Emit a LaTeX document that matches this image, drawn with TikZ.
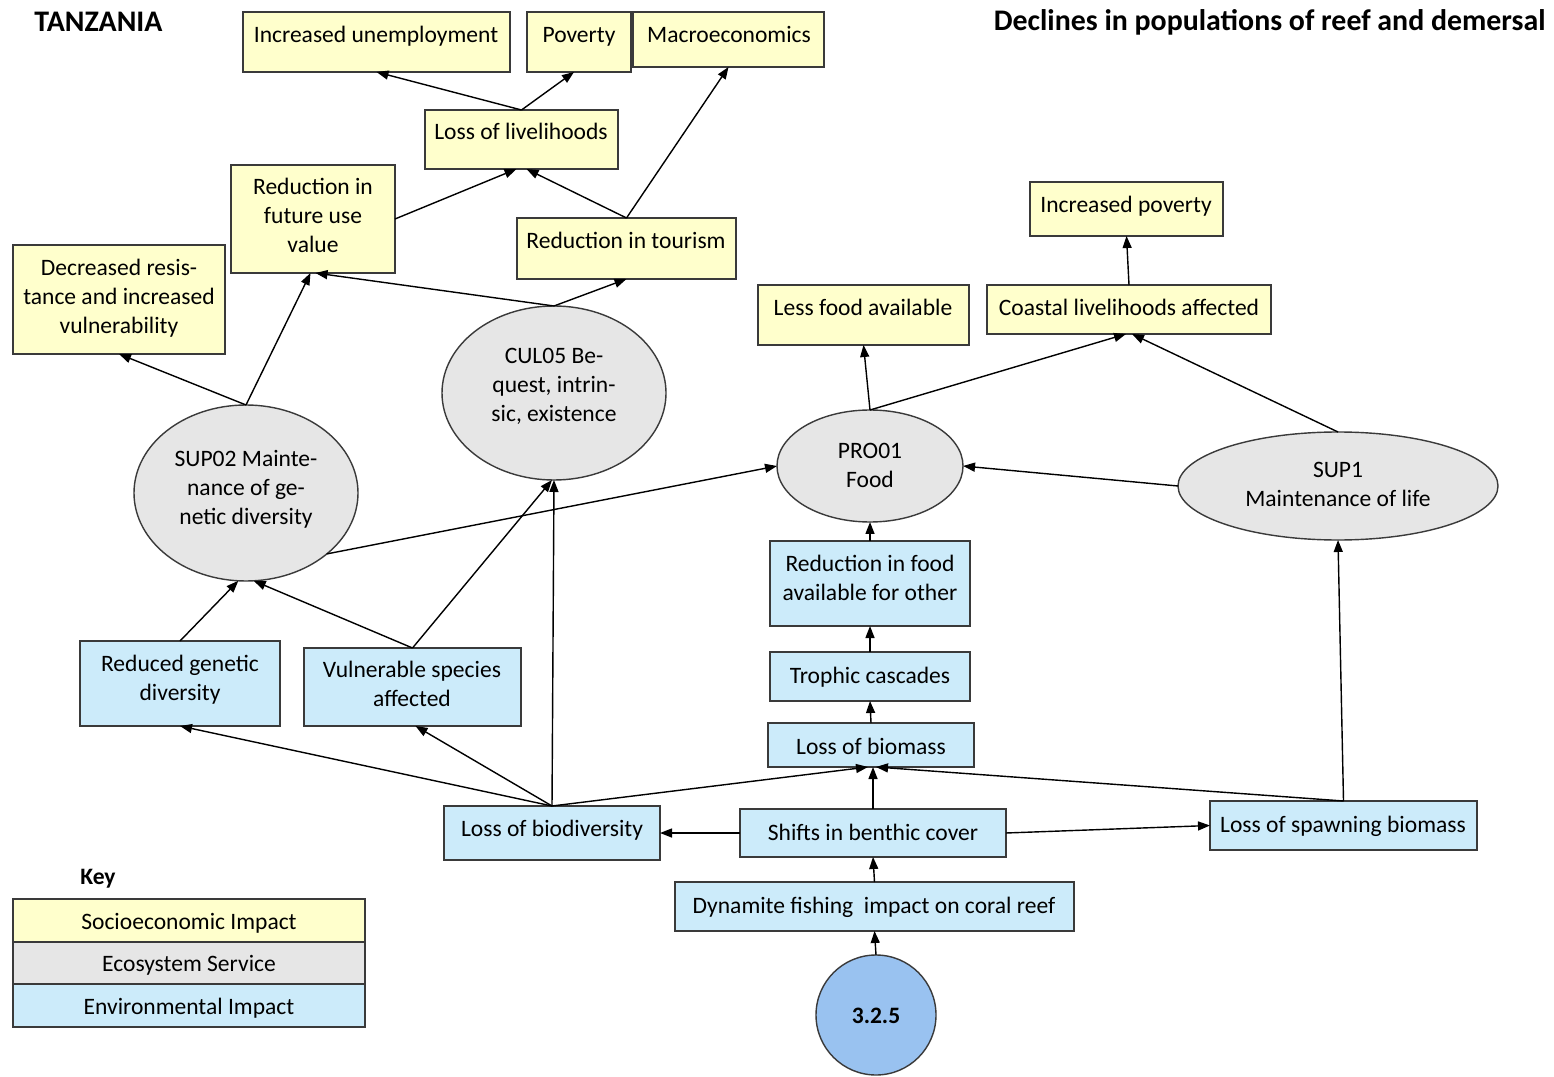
\documentclass[tikz,border=0pt]{standalone}
\usepackage{fontspec}
\setmainfont{Carlito}
\usetikzlibrary{arrows.meta,shapes.geometric}
\definecolor{socio}{HTML}{FFFFCC}
\definecolor{eco}{HTML}{E6E6E6}
\definecolor{env}{HTML}{CCEBFA}
\definecolor{src}{HTML}{99C2F0}
\definecolor{edge}{HTML}{3A3A3A}
% box from its pixel corners: name, style, left, top, right, bottom
\newcommand\mkbox[6]{%
  \node[#2, minimum width={(#5-#3)*0.02cm}, minimum height={(#6-#4)*0.02cm}]
    (#1) at ({(#3+#5)/2},{(#4+#6)/2}) {};}
% ellipse from centre and radii: name, style, cx, cy, rx, ry
\newcommand\mkell[6]{%
  \node[#2, minimum width={2*#5*0.02cm}, minimum height={2*#6*0.02cm}]
    (#1) at (#3,#4) {};}
\begin{document}
\begin{tikzpicture}[x=0.02cm,y=-0.02cm,
  frame/.style={draw=edge, line width=0.8pt, inner sep=0pt, outer sep=0pt},
  ybox/.style={frame, rectangle, fill=socio},
  bbox/.style={frame, rectangle, fill=env},
  gell/.style={frame, ellipse, fill=eco},
  sell/.style={frame, ellipse, fill=src},
  % labels are placed by the centre of their last line
  lbl/.style={font=\fontsize{13.4}{16.4}\selectfont, align=center, inner sep=0pt,
              text height=0.69em, text depth=0.21em},
  ttl/.style={font=\fontsize{17}{20}\selectfont\bfseries, inner sep=0pt},
  arr/.style={draw=black, line width=0.8pt, -{Triangle[length=0.24cm,width=0.18cm]}}]
\useasboundingbox (0,0) rectangle (1554,1077);
\fill[white] (0,0) rectangle (1554,1077);

% titles
\node[ttl, anchor=west] (country) at (34,22) {TANZANIA};
\node[ttl, anchor=east] (topic) at (1546,22) {Declines in populations of reef and demersal};

% socioeconomic impacts
\mkbox{unemp}{ybox}{243}{12}{510}{72}
\mkbox{pov}{ybox}{527}{12}{631}{72}
\mkbox{macro}{ybox}{633}{12}{824}{67}
\mkbox{livel}{ybox}{425}{110}{618}{169}
\mkbox{fut}{ybox}{231}{165}{395}{273}
\mkbox{tour}{ybox}{517}{218}{736}{279}
\mkbox{dec}{ybox}{13}{245}{225}{354}
\mkbox{less}{ybox}{758}{285}{969}{345}
\mkbox{coast}{ybox}{987}{285}{1271}{334}
\mkbox{incpov}{ybox}{1030}{182}{1223}{236}

\node[lbl] (t-unemp) at (376,38) {Increased unemployment};
\node[lbl] (t-pov) at (579,38) {Poverty};
\node[lbl] (t-macro) at (729,38) {Macroeconomics};
\node[lbl] (t-livel) at (521,135) {Loss of livelihoods};
\node[lbl] (t-fut) at (313,248) {Reduction in\\future use\\value};
\node[lbl] (t-tour) at (626,244) {Reduction in tourism};
\node[lbl] (t-dec) at (119,329) {Decreased resis-\\tance and increased\\vulnerability};
\node[lbl] (t-less) at (863,311) {Less food available};
\node[lbl] (t-coast) at (1129,311) {Coastal livelihoods affected};
\node[lbl] (t-incpov) at (1126,208) {Increased poverty};

% ecosystem services
\mkell{cul}{gell}{554}{393}{112}{87}
\mkell{sup02}{gell}{246}{493}{112}{88}
\mkell{pro}{gell}{870}{466}{93}{56}
\mkell{sup1}{gell}{1338}{486}{160}{54}

\node[lbl] (t-cul) at (554,417) {CUL05 Be-\\quest, intrin-\\sic, existence};
\node[lbl] (t-sup02) at (246,520) {SUP02 Mainte-\\nance of ge-\\netic diversity};
\node[lbl] (t-pro) at (870,483) {PRO01\\Food};
\node[lbl] (t-sup1) at (1338,502) {SUP1\\Maintenance of life};

% environmental impacts
\mkbox{redfood}{bbox}{770}{541}{970}{626}
\mkbox{troph}{bbox}{770}{652}{970}{701}
\mkbox{biomass}{bbox}{768}{723}{974}{767}
\mkbox{redgen}{bbox}{80}{641}{280}{726}
\mkbox{vuln}{bbox}{304}{648}{521}{726}
\mkbox{biodiv}{bbox}{444}{806}{660}{860}
\mkbox{shifts}{bbox}{740}{809}{1006}{857}
\mkbox{spawn}{bbox}{1210}{801}{1477}{850}
\mkbox{dyn}{bbox}{675}{882}{1074}{931}
\mkell{pressure}{sell}{876}{1015}{60}{60}

\node[lbl] (t-redfood) at (870,596) {Reduction in food\\available for other};
\node[lbl] (t-troph) at (870,679) {Trophic cascades};
\node[lbl] (t-biomass) at (871,750) {Loss of biomass};
\node[lbl] (t-redgen) at (180,696) {Reduced genetic\\diversity};
\node[lbl] (t-vuln) at (412,702) {Vulnerable species\\affected};
\node[lbl] (t-biodiv) at (552,832) {Loss of biodiversity};
\node[lbl] (t-shifts) at (873,836) {Shifts in benthic cover};
\node[lbl] (t-spawn) at (1343,828) {Loss of spawning biomass};
\node[lbl] (t-dyn) at (874,909) {Dynamite fishing\ \ impact on coral reef};
\node[lbl, font=\fontsize{13.4}{16.4}\selectfont\bfseries] (t-pressure) at (876,1019) {3.2.5};

% key
\node[font=\fontsize{13.4}{16}\selectfont\bfseries, inner sep=0pt] (keyhead) at (98,879) {Key};
\mkbox{k1}{ybox}{13}{899}{365}{942}
\mkbox{k2}{frame, rectangle, fill=eco}{13}{942}{365}{984}
\mkbox{k3}{bbox}{13}{984}{365}{1027}
\node[lbl] (t-k1) at (189,925) {Socioeconomic Impact};
\node[lbl] (t-k2) at (189,967) {Ecosystem Service};
\node[lbl] (t-k3) at (189,1010) {Environmental Impact};

% connectors
\draw[arr] (livel.north) -- (unemp.south);
\draw[arr] (livel.north) -- ([xshift=-0.1cm]pov.south);
\draw[arr] (fut.east) -- ([xshift=-0.1cm]livel.south);
\draw[arr] (tour.north) -- ([xshift=0.1cm]livel.south);
\draw[arr] (tour.north) -- (macro.south);
\draw[arr] (cul.north) -- ([xshift=0.05cm]fut.south);
\draw[arr] (cul.north) -- (tour.south);
\draw[arr] (sup02.north) -- (dec.south);
\draw[arr] (sup02.north) -- ([xshift=-0.05cm]fut.south);
\draw[arr] (pro.north) -- (less.south);
\draw[arr] (pro.north) -- ([xshift=-0.06cm]coast.south);
\draw[arr] (sup1.north) -- ([xshift=0.06cm]coast.south);
\draw[arr] (coast.north) -- (incpov.south);
\draw[arr] (sup1.west) -- (pro.east);
\draw[arr] (sup02.-37) -- (pro.west);
\draw[arr] (redfood.north) -- (pro.south);
\draw[arr] (troph.north) -- (redfood.south);
\draw[arr] (biomass.north) -- (troph.south);
\draw[arr] (redgen.north) -- (sup02.265);
\draw[arr] (vuln.north) -- (sup02.275);
\draw[arr] (vuln.north) -- ([xshift=-0.04cm]cul.south);
\draw[arr] (biodiv.north) -- (cul.south);
\draw[arr] (biodiv.north) -- (redgen.south);
\draw[arr] (biodiv.north) -- ([xshift=0.06cm]vuln.south);
\draw[arr] (biodiv.north) -- ([xshift=-0.06cm]biomass.south);
\draw[arr] (shifts.north) -- (shifts.north |- biomass.south);
\draw[arr] (spawn.north) -- ([xshift=0.1cm]biomass.south);
\draw[arr] (spawn.north) -- (sup1.south);
\draw[arr] (shifts.west) -- (biodiv.east);
\draw[arr] (shifts.east) -- (spawn.west);
\draw[arr] (dyn.north) -- (shifts.south);
\draw[arr] (pressure.north) -- (dyn.south);
\end{tikzpicture}
\end{document}
